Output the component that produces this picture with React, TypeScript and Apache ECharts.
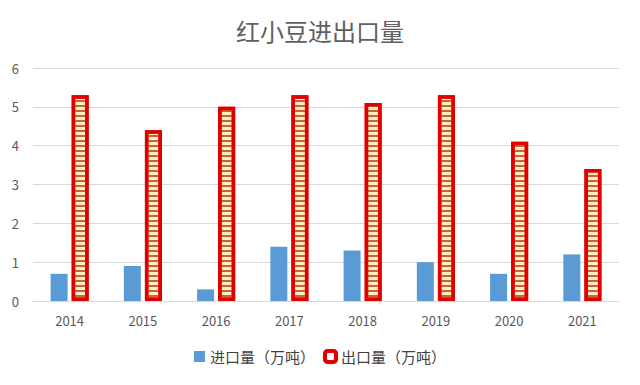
import React, { useEffect, useRef } from "react";
import * as echarts from "echarts";

const years = ["2014", "2015", "2016", "2017", "2018", "2019", "2020", "2021"];
const importVals = [0.7, 0.9, 0.3, 1.4, 1.3, 1.0, 0.7, 1.2];
const exportVals = [5.3, 4.4, 5.0, 5.3, 5.1, 5.3, 4.1, 3.4];
const seriesNames = ["进口量（万吨）", "出口量（万吨）"];
const titleText = "红小豆进出口量";

export default function App() {
  const ref = useRef<HTMLDivElement>(null);
  useEffect(() => {
    document.body.style.margin = "0";
    const chart = echarts.init(ref.current!, null, { renderer: "svg" });
    const font = "'Noto Sans CJK SC', 'Noto Sans', sans-serif";
    chart.setOption({
      animation: false,
      backgroundColor: "#ffffff",
      textStyle: { fontFamily: font },
      title: {
        text: titleText,
        left: "center",
        top: 13,
        textStyle: { fontSize: 24, fontWeight: "normal", color: "#606060", fontFamily: font },
      },
      legend: {
        bottom: 16,
        left: "center",
        itemGap: 8,
        itemWidth: 11,
        itemHeight: 11,
        textStyle: { fontSize: 15, color: "#404040", fontFamily: font },
        data: [
          { name: seriesNames[0], icon: "rect", itemStyle: { color: "#5b9bd5" } },
          {
            name: seriesNames[1],
            icon: "roundRect",
            itemStyle: { color: "#ffffff", borderColor: "#e00000", borderWidth: 4, decal: { symbol: "none" } },
          },
        ],
      },
      grid: { left: 33, right: 21, top: 68, bottom: 84, containLabel: false },
      xAxis: {
        type: "category",
        data: years,
        axisTick: { show: false },
        axisLine: { lineStyle: { color: "#d9d9d9", width: 1 } },
        axisLabel: { color: "#595959", fontSize: 13, margin: 13 },
      },
      yAxis: {
        type: "value",
        min: 0,
        max: 6,
        interval: 1,
        axisLabel: { color: "#595959", fontSize: 13, margin: 14 },
        splitLine: { lineStyle: { color: "#d9d9d9", width: 1 } },
        axisLine: { show: false },
        axisTick: { show: false },
      },
      series: [
        {
          name: seriesNames[0],
          type: "bar",
          data: importVals,
          barWidth: 17,
          barGap: "24%",
          itemStyle: { color: "#5b9bd5" },
        },
        {
          name: seriesNames[1],
          type: "bar",
          data: exportVals,
          barWidth: 17,
          itemStyle: {
            color: "#fff0c4",
            borderColor: "#e00000",
            borderWidth: 3.5,
            decal: {
              symbol: "rect",
              color: "#c8643c",
              dashArrayX: [1, 0],
              dashArrayY: [1.5, 2.3],
              rotation: 0,
              symbolSize: 1,
            },
          },
        },
      ],
    });
    return () => chart.dispose();
  }, []);
  return <div ref={ref} style={{ width: 640, height: 385 }} />;
}
